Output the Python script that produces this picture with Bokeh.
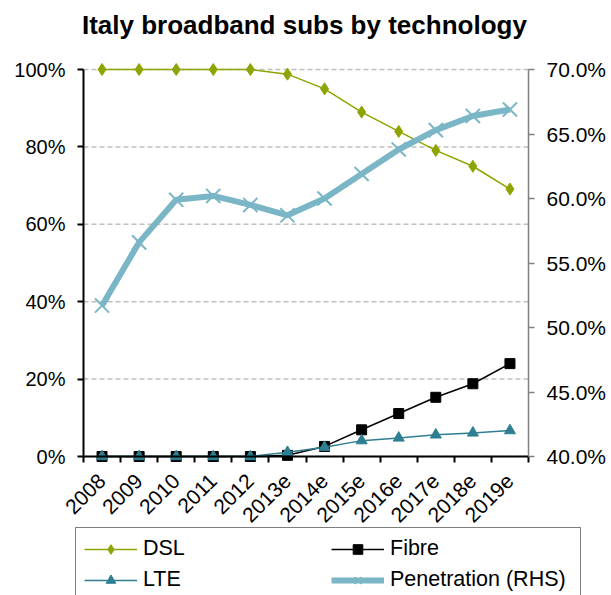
import math
from bokeh.plotting import figure
from bokeh.models import (Range1d, LinearAxis, FixedTicker, CustomJSTickFormatter,
                          Legend, LegendItem, Label)
from bokeh.embed import file_html
from bokeh.resources import INLINE

# ---- data ----
categories = ["2008", "2009", "2010", "2011", "2012", "2013e", "2014e",
              "2015e", "2016e", "2017e", "2018e", "2019e"]
dsl = [100, 100, 100, 100, 100, 98.8, 95.0, 89.0, 84.0, 79.1, 75.0, 69.1]
fibre = [0, 0, 0, 0, 0, 0.3, 2.6, 6.9, 11.1, 15.3, 18.8, 24.0]
lte = [0, 0, 0, 0, 0, 1.1, 2.4, 4.1, 4.8, 5.6, 6.1, 6.7]
penetration = [51.7, 56.6, 59.9, 60.2, 59.5, 58.7, 60.0, 61.9, 63.8, 65.3, 66.4, 66.9]
left_ticks = [0, 20, 40, 60, 80, 100]
right_ticks = [40, 45, 50, 55, 60, 65, 70]
series_names = ["DSL", "Fibre", "LTE", "Penetration (RHS)"]
title_text = "Italy broadband  subs by technology"

# ---- layout (pixels) ----
W, H = 611, 595
PL, PR, PT, PB = 83, 528, 69, 456   # plot-area edges on the canvas

FONT = "Liberation Sans"
DSL_C = "#8FA400"
FIB_C = "#000000"
LTE_C = "#2E7F91"
PEN_C = "#7AB6C6"

n = len(categories)
xs = [i + 0.5 for i in range(n)]
bounds = list(range(n + 1))

ppx = (PR - PL) / n
lo, hi = left_ticks[0], left_ticks[-1]
ppy = (PB - PT) / (hi - lo)
rlo, rhi = right_ticks[0], right_ticks[-1]
ppy2 = (PB - PT) / (rhi - rlo)

p = figure(width=W, height=H, output_backend="svg", toolbar_location=None,
           x_range=Range1d(0 - PL / ppx, n + (W - PR) / ppx),
           y_range=Range1d(lo - (H - PB) / ppy, hi + PT / ppy),
           min_border=0, y_axis_location=None, x_axis_location=None)
p.outline_line_color = None
p.background_fill_color = "white"
p.border_fill_color = "white"
p.xgrid.grid_line_color = None
p.ygrid.grid_line_color = None

p.extra_y_ranges = {"rhs": Range1d(rlo - (H - PB) / ppy2, rhi + PT / ppy2)}

# title
p.add_layout(Label(x=W / 2 + 2, y=H - 24, x_units="screen", y_units="screen",
                   text=title_text, text_align="center", text_baseline="alphabetic",
                   text_font=FONT, text_font_size="26px", text_font_style="bold",
                   text_color="black"))

# dashed horizontal gridlines across the plot area
p.segment(x0=[bounds[0]] * len(left_ticks), x1=[bounds[-1]] * len(left_ticks),
          y0=left_ticks, y1=left_ticks, line_color="#BFBFBF", line_width=1.5,
          line_dash="5 3")

# left axis
yl = LinearAxis(ticker=FixedTicker(ticks=left_ticks), fixed_location=bounds[0],
                bounds=(lo, hi),
                formatter=CustomJSTickFormatter(code="return tick.toFixed(0) + '%';"))
yl.axis_line_color = "black"
yl.axis_line_width = 2
yl.major_tick_line_color = "black"
yl.major_tick_line_width = 2
yl.major_tick_out = 6
yl.major_tick_in = 0
yl.minor_tick_line_color = None
yl.major_label_standoff = 12
yl.major_label_text_font = FONT
yl.major_label_text_font_size = "20px"
yl.major_label_text_color = "black"
p.add_layout(yl, "left")

# right axis
yr = LinearAxis(y_range_name="rhs", ticker=FixedTicker(ticks=right_ticks),
                fixed_location=bounds[-1], bounds=(rlo, rhi),
                formatter=CustomJSTickFormatter(code="return tick.toFixed(1) + '%';"))
yr.axis_line_color = "#808080"
yr.axis_line_width = 1.5
yr.major_tick_line_color = "#808080"
yr.major_tick_line_width = 1.5
yr.major_tick_out = 6
yr.major_tick_in = 0
yr.minor_tick_line_color = None
yr.major_label_standoff = 12
yr.major_label_text_font = FONT
yr.major_label_text_font_size = "21px"
yr.major_label_text_color = "black"
p.add_layout(yr, "right")

# x axis
xa = LinearAxis(ticker=FixedTicker(ticks=xs, minor_ticks=bounds), fixed_location=lo,
                bounds=(bounds[0], bounds[-1]),
                formatter=CustomJSTickFormatter(args=dict(cats=categories),
                                                code="const c = cats[Math.floor(tick)]; return c === undefined ? '' : c;"))
xa.axis_line_color = "black"
xa.axis_line_width = 2
xa.major_tick_line_color = None
xa.major_tick_out = 0
xa.major_tick_in = 0
xa.minor_tick_line_color = "black"
xa.minor_tick_line_width = 2
xa.minor_tick_out = 6
xa.minor_tick_in = 0
xa.major_label_orientation = math.pi / 4
xa.major_label_standoff = 15
xa.major_label_text_font = FONT
xa.major_label_text_font_size = "21px"
xa.major_label_text_color = "black"
p.add_layout(xa, "below")

# series
dsl_l = p.line(xs, dsl, line_color=DSL_C, line_width=1.5)
dsl_m = p.scatter(xs, dsl, marker="diamond", size=12, fill_color=DSL_C, line_color=DSL_C)
fib_l = p.line(xs, fibre, line_color=FIB_C, line_width=1.5)
fib_m = p.scatter(xs, fibre, marker="square", size=10, fill_color=FIB_C, line_color=FIB_C)
lte_l = p.line(xs, lte, line_color=LTE_C, line_width=1.5)
lte_m = p.scatter(xs, lte, marker="triangle", size=11, fill_color=LTE_C, line_color=LTE_C)
pen_l = p.line(xs, penetration, line_color=PEN_C, line_width=6, y_range_name="rhs")
pen_m = p.scatter(xs, penetration, marker="x", size=20, line_color=PEN_C, line_width=2,
                  y_range_name="rhs")

renderer_pairs = [(dsl_l, dsl_m), (fib_l, fib_m), (lte_l, lte_m), (pen_l, pen_m)]
items = [LegendItem(label=name, renderers=list(rs))
         for name, rs in zip(series_names, renderer_pairs)]

legend = Legend(items=items, location=(75, -6), orientation="horizontal", ncols=2)
legend.glyph_width = 53
legend.glyph_height = 24
legend.label_height = 24
legend.label_width = 182
legend.label_standoff = 6
legend.spacing = 6
legend.padding = 8
legend.margin = 0
legend.border_line_color = "black"
legend.border_line_width = 1.5
legend.background_fill_color = "white"
legend.background_fill_alpha = 1
legend.label_text_font = FONT
legend.label_text_font_size = "21.5px"
legend.label_text_color = "black"
p.add_layout(legend, "center")

open("out.html", "w").write(file_html(p, INLINE))
